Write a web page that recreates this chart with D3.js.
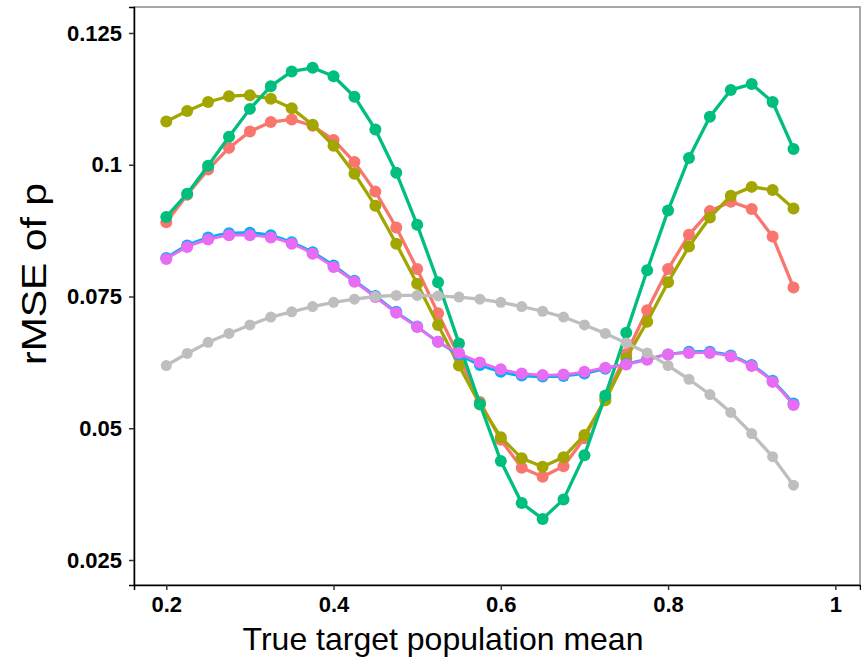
<!DOCTYPE html>
<html lang="en">

<head>
  <meta charset="utf-8">
  <script src="https://d3js.org/d3.v7.min.js"></script>
  <style>
    body {
      margin: 0;
      background: #fff;
    }

    text {
      font-family: "Liberation Sans", Arial, sans-serif;
    }
  </style>
</head>

<body>
  <svg width="861" height="659"></svg>
  <script>
    // true target population mean: 0.2, 0.225, ... 0.95
    const means = [0.2, 0.225, 0.25, 0.275, 0.3, 0.325, 0.35, 0.375, 0.4, 0.425, 0.45,
      0.475, 0.5, 0.525, 0.55, 0.575, 0.6, 0.625, 0.65, 0.675, 0.7, 0.725, 0.75,
      0.775, 0.8, 0.825, 0.85, 0.875, 0.9, 0.925, 0.95];

    const redVals = [0.0891, 0.0943, 0.0991, 0.1032, 0.1063, 0.1081, 0.1086, 0.1074, 0.1047, 0.1005, 0.0949,
      0.0881, 0.0802, 0.0718, 0.0636, 0.0550, 0.0478, 0.0425, 0.0408, 0.0428, 0.0481, 0.0557, 0.0641,
      0.0724, 0.0802, 0.0867, 0.0912, 0.0930, 0.0916, 0.0864, 0.0767];
    const oliveVals = [0.1082, 0.1102, 0.1119, 0.1130, 0.1132, 0.1125, 0.1107, 0.1076, 0.1036, 0.0983, 0.0922,
      0.0850, 0.0774, 0.0696, 0.0619, 0.0545, 0.0483, 0.0443, 0.0427, 0.0445, 0.0487, 0.0553, 0.0633,
      0.0702, 0.0777, 0.0845, 0.0900, 0.0941, 0.0958, 0.0952, 0.0917];
    const greenVals = [0.0901, 0.0945, 0.0998, 0.1053, 0.1106, 0.1149, 0.1177, 0.1184, 0.1168, 0.1129, 0.1067,
      0.0985, 0.0886, 0.0777, 0.0661, 0.0546, 0.0438, 0.0358, 0.0328, 0.0365, 0.0449, 0.0562, 0.0681,
      0.0800, 0.0913, 0.1013, 0.1091, 0.1142, 0.1153, 0.1119, 0.1030];
    const blueVals = [0.0823, 0.0847, 0.0862, 0.0870, 0.0871, 0.0866, 0.0853, 0.0834, 0.0809, 0.0780, 0.0751,
      0.0721, 0.0693, 0.0664, 0.0640, 0.0620, 0.0607, 0.0600, 0.0598, 0.0599, 0.0604, 0.0613, 0.0622,
      0.0631, 0.0640, 0.0645, 0.0645, 0.0638, 0.0620, 0.0590, 0.0547];
    const magentaVals = [0.0821, 0.0844, 0.0858, 0.0866, 0.0866, 0.0862, 0.0850, 0.0831, 0.0806, 0.0778, 0.0749,
      0.0719, 0.0692, 0.0664, 0.0643, 0.0625, 0.0612, 0.0604, 0.0601, 0.0602, 0.0607, 0.0615, 0.0621,
      0.0630, 0.0640, 0.0643, 0.0643, 0.0636, 0.0618, 0.0588, 0.0544];
    const greyVals = [0.0619, 0.0642, 0.0663, 0.0680, 0.0696, 0.0711, 0.0721, 0.0731, 0.0739, 0.0745, 0.0750,
      0.0752, 0.0752, 0.0751, 0.0749, 0.0745, 0.0739, 0.0731, 0.0722, 0.0711, 0.0696, 0.0680, 0.0662,
      0.0643, 0.0619, 0.0593, 0.0564, 0.0530, 0.0490, 0.0446, 0.0392];

    const xTicks = [0.2, 0.4, 0.6, 0.8, 1];
    const yTicks = [0.025, 0.05, 0.075, 0.1, 0.125];
    const yTickLabels = ["0.025", "0.05", "0.075", "0.1", "0.125"];

    const series = [
      { values: redVals, color: "#F8766D", width: 3.3, r: 6, smooth: false },
      { values: oliveVals, color: "#A3A500", width: 3.3, r: 6, smooth: false },
      { values: greenVals, color: "#00BF7D", width: 3.3, r: 6, smooth: false },
      { values: blueVals, color: "#00B0F6", width: 2.8, r: 6, smooth: true },
      { values: magentaVals, color: "#E76BF3", width: 2.8, r: 6, smooth: true },
      { values: greyVals, color: "#BEBEBE", width: 3.3, r: 5.5, smooth: false }
    ];

    const svg = d3.select("svg");
    const pLeft = 134, pRight = 860, pTop = 7, pBottom = 585;

    const x = d3.scaleLinear().domain([0.1614, 1.0295]).range([pLeft, pRight]);
    const y = d3.scaleLinear().domain([0.02026, 0.12993]).range([pBottom, pTop]);

    // panel frame
    svg.append("rect")
      .attr("x", pLeft).attr("y", pTop)
      .attr("width", pRight - pLeft).attr("height", pBottom - pTop)
      .attr("fill", "none").attr("stroke", "#8c8c8c").attr("stroke-width", 1.5);

    const xAxis = svg.append("g")
      .attr("transform", `translate(0,${pBottom})`)
      .call(d3.axisBottom(x).tickValues(xTicks).tickFormat(d3.format("")).tickSize(5).tickPadding(6));

    const yAxis = svg.append("g")
      .attr("transform", `translate(${pLeft},0)`)
      .call(d3.axisLeft(y).tickValues(yTicks).tickFormat((d, i) => yTickLabels[i]).tickSize(5).tickPadding(7));

    [xAxis, yAxis].forEach(g => {
      g.select(".domain").attr("stroke", "#000").attr("stroke-width", 1.5);
      g.selectAll(".tick line").attr("stroke", "#333").attr("stroke-width", 1.5);
      g.selectAll(".tick text")
        .attr("fill", "#000")
        .style("font-family", "'Liberation Sans', Arial, sans-serif")
        .style("font-size", "22px")
        .style("font-weight", "bold");
    });

    const plot = svg.append("g");

    series.forEach(s => {
      const pts = means.map((m, i) => [m, s.values[i]]);
      const line = d3.line()
        .x(d => x(d[0]))
        .y(d => y(d[1]))
        .curve(s.smooth ? d3.curveCatmullRom : d3.curveLinear);

      plot.append("path")
        .datum(pts)
        .attr("d", line)
        .attr("fill", "none")
        .attr("stroke", s.color)
        .attr("stroke-width", s.width)
        .attr("stroke-linejoin", "round");

      plot.selectAll(null)
        .data(pts)
        .enter()
        .append("circle")
        .attr("cx", d => x(d[0]))
        .attr("cy", d => y(d[1]))
        .attr("r", s.r)
        .attr("fill", s.color);
    });

    svg.append("text")
      .attr("x", 443).attr("y", 650)
      .attr("text-anchor", "middle")
      .style("font-size", "32px")
      .text("True target population mean");

    svg.append("text")
      .attr("transform", "translate(46,274) rotate(-90)")
      .attr("text-anchor", "middle")
      .attr("textLength", 182)
      .attr("lengthAdjust", "spacingAndGlyphs")
      .style("font-size", "35px")
      .text("rMSE of p");
  </script>
</body>

</html>
